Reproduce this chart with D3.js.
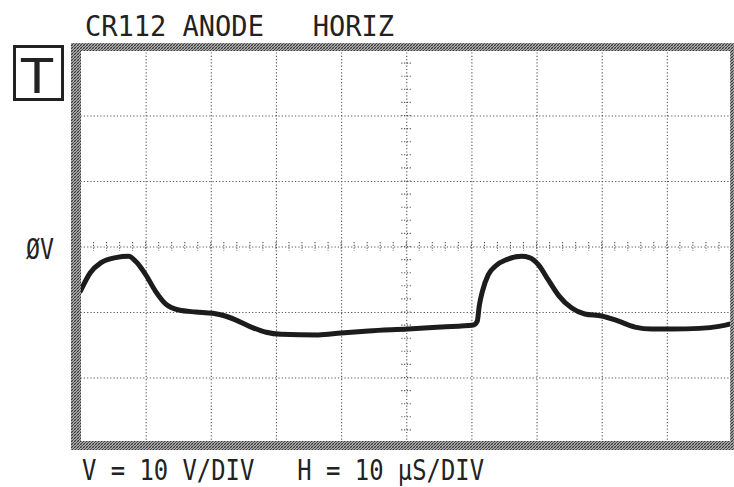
<!DOCTYPE html>
<html>
<head>
<meta charset="utf-8">
<script src="https://cdn.jsdelivr.net/npm/d3@7"></script>
<style>
  html, body { margin: 0; padding: 0; background: #fff; }
  svg { display: block; }
  .grid line { stroke: #555; stroke-width: 1.1; stroke-dasharray: 1.2 2.1; }
  .grid path { display: none; }
  text { fill: #222; font-family: "DejaVu Sans Mono", "Liberation Mono", monospace; white-space: pre; }
</style>
</head>
<body>
<script>
// Oscilloscope capture: CR112 anode voltage, horizontal section
const timeUs = [0, 1.5, 3.1, 5.4, 7.4, 8.5, 10, 11.5, 13.1, 15.1,
                17.7, 20.3, 21.8, 23.8, 26.2, 28.5, 30.8, 36.5, 40, 44.2,
                50.3, 55.4, 60.3, 60.9, 61.2, 61.7, 62.6, 63.8, 65.4, 67.7,
                68.9, 70.3, 71.8, 73.4, 75.4, 77.4, 80, 82.6, 85.1, 87.7,
                90.8, 95, 98, 100.2];
const volts = [-6.8, -4.0, -2.5, -1.7, -1.5, -2.3, -4.3, -6.8, -8.8, -9.7,
               -10.0, -10.2, -10.5, -11.2, -12.3, -13.1, -13.4, -13.5, -13.2, -12.9,
               -12.6, -12.3, -12.0, -11.4, -9.1, -6.8, -4.3, -2.9, -2.0, -1.5,
               -1.7, -2.8, -5.1, -7.5, -9.4, -10.3, -10.6, -11.4, -12.3, -12.6,
               -12.6, -12.5, -12.2, -11.7];

// Graticule: 10 horizontal divisions of 10 µs, 6 vertical divisions of 10 V
const timeGrid = [10, 20, 30, 40, 50, 60, 70, 80, 90];
const voltGrid = [-20, -10, 0, 10, 20];
const timeMinor = d3.range(0, 100.1, 2);
const voltMinor = d3.range(-30, 30.1, 2);

const titleText = "CR112 ANODE   HORIZ";
const zeroLabel = "ØV";
const scaleText = "V = 10 V/DIV   H = 10 μS/DIV";
const triggerText = "T";

const W = 734, H = 487;
const scr = { left: 80.5, right: 732, top: 50, bottom: 443 };

const svg = d3.select("body").append("svg").attr("width", W).attr("height", H);

const x = d3.scaleLinear().domain([0, 100]).range([scr.left, scr.right]);
const y = d3.scaleLinear().domain([-30, 30]).range([scr.bottom, scr.top]);

const defs = svg.append("defs");
const pat = defs.append("pattern").attr("id", "hatch")
  .attr("width", 3).attr("height", 3).attr("patternUnits", "userSpaceOnUse");
pat.append("rect").attr("width", 3).attr("height", 3).attr("fill", "#a8a8a8");
pat.append("path").attr("d", "M0,3 L3,0 M-1,1 L1,-1 M2,4 L4,2")
  .attr("stroke", "#3a3a3a").attr("stroke-width", 1);
pat.append("path").attr("d", "M0,0 L3,3").attr("stroke", "#666").attr("stroke-width", 0.6);

defs.append("clipPath").attr("id", "screen")
  .append("rect").attr("x", scr.left).attr("y", scr.top)
  .attr("width", scr.right - scr.left).attr("height", scr.bottom - scr.top);

// Major graticule lines
svg.append("g").attr("class", "grid")
  .attr("transform", `translate(0,${scr.bottom})`)
  .call(d3.axisBottom(x).tickValues(timeGrid).tickSize(-(scr.bottom - scr.top)).tickFormat(""));
svg.append("g").attr("class", "grid")
  .attr("transform", `translate(${scr.left},0)`)
  .call(d3.axisLeft(y).tickValues(voltGrid).tickSize(-(scr.right - scr.left)).tickFormat(""));

// Minor marks along the centre axes
const cx = x(50), cy = y(0);
svg.append("g").selectAll("line").data(timeMinor.filter(t => t > 0 && t < 100)).join("line")
  .attr("x1", d => x(d)).attr("x2", d => x(d))
  .attr("y1", cy - 4.5).attr("y2", cy + 4.5)
  .attr("stroke", "#555").attr("stroke-width", 1.1).attr("stroke-dasharray", "1.2 1.6");
svg.append("g").selectAll("line").data(voltMinor.filter(v => v > -30 && v < 30)).join("line")
  .attr("y1", d => y(d)).attr("y2", d => y(d))
  .attr("x1", cx - 5).attr("x2", cx + 5)
  .attr("stroke", "#555").attr("stroke-width", 1.1).attr("stroke-dasharray", "1.2 1.6");

// Trace
const pts = timeUs.map((t, i) => [t, volts[i]]);
svg.append("path")
  .attr("clip-path", "url(#screen)")
  .attr("d", d3.line().x(d => x(d[0])).y(d => y(d[1])).curve(d3.curveMonotoneX)(pts))
  .attr("fill", "none").attr("stroke", "#1c1c1c").attr("stroke-width", 5)
  .attr("stroke-linejoin", "round").attr("stroke-linecap", "round");

// Screen bezel (hatched band)
const bz = svg.append("g").attr("fill", "url(#hatch)");
bz.append("rect").attr("x", 71).attr("y", 43).attr("width", 665).attr("height", 8);
bz.append("rect").attr("x", 71).attr("y", 441).attr("width", 665).attr("height", 9);
bz.append("rect").attr("x", 71).attr("y", 43).attr("width", 10).attr("height", 407);
bz.append("rect").attr("x", 730).attr("y", 43).attr("width", 6).attr("height", 407);

// Labels
svg.append("text").attr("x", 85).attr("y", 36)
  .attr("font-size", 29).attr("textLength", 309).attr("lengthAdjust", "spacingAndGlyphs")
  .text(titleText);
svg.append("text").attr("x", 26).attr("y", 259)
  .attr("font-size", 29).attr("textLength", 28).attr("lengthAdjust", "spacingAndGlyphs")
  .text(zeroLabel);
svg.append("text").attr("x", 82).attr("y", 480)
  .attr("font-size", 29).attr("textLength", 402).attr("lengthAdjust", "spacingAndGlyphs")
  .text(scaleText);

// Trigger indicator box
svg.append("rect").attr("x", 14.5).attr("y", 46.5).attr("width", 48).attr("height", 53)
  .attr("fill", "none").attr("stroke", "#222").attr("stroke-width", 3);
svg.append("text").attr("x", 21).attr("y", 93)
  .attr("font-size", 48).attr("textLength", 32).attr("lengthAdjust", "spacingAndGlyphs")
  .style("font-family", "'DejaVu Sans', sans-serif")
  .text(triggerText);
</script>
</body>
</html>
